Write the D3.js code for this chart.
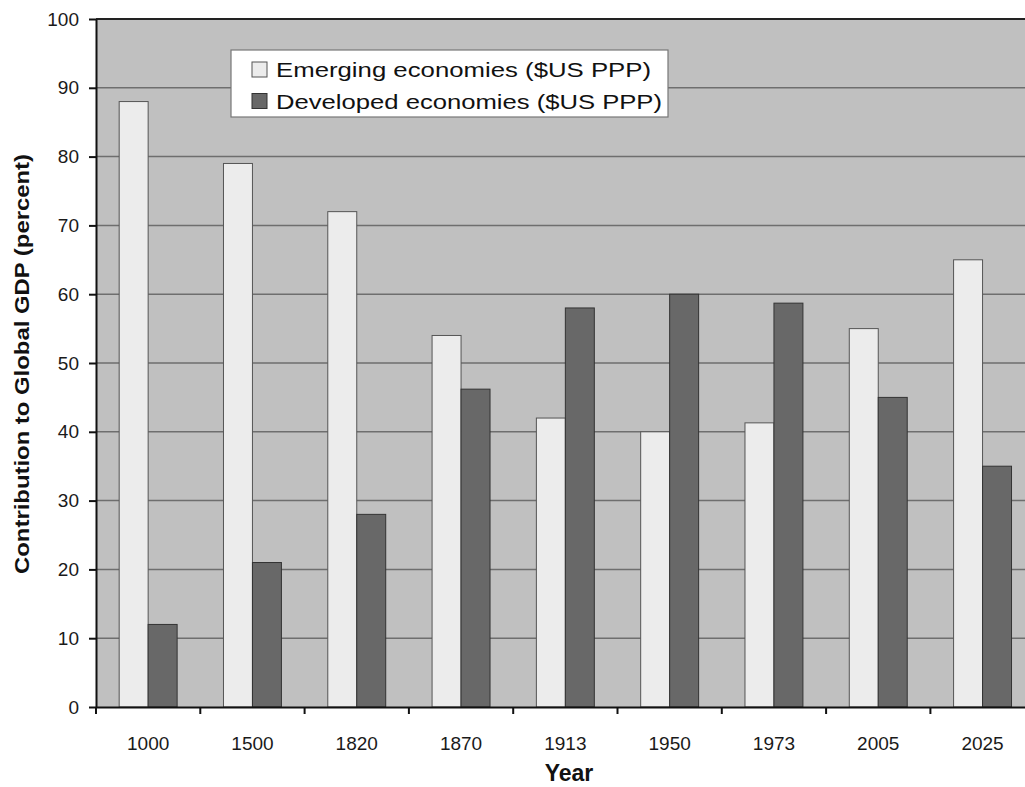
<!DOCTYPE html>
<html>
<head>
<meta charset="utf-8">
<script src="https://cdn.jsdelivr.net/npm/d3@7"></script>
<style>
  html, body { margin: 0; padding: 0; background: #fff; overflow: hidden; }
  svg { display: block; font-family: "Liberation Sans", Arial, sans-serif; }
</style>
</head>
<body>
<svg id="chart" width="1025" height="787"></svg>
<script>
// Share of global GDP by economy group, selected years
const years = ["1000", "1500", "1820", "1870", "1913", "1950", "1973", "2005", "2025"];
const seriesNames = ["Emerging economies ($US PPP)", "Developed economies ($US PPP)"];
const emerging  = [88, 79, 72, 54, 42, 40, 41.3, 55, 65];
const developed = [12, 21, 28, 46.2, 58, 60, 58.7, 45, 35];
const yTicks = [0, 10, 20, 30, 40, 50, 60, 70, 80, 90, 100];

const svg = d3.select("#chart");
const margin = { left: 96, top: 19 };
const plotW = 938.7;   // plot continues past the right edge of the page
const plotH = 688;

const fills = ["#ececec", "#686868"];
const strokes = ["#555", "#333"];

const rows = years.map((yr, i) => ({ year: yr, values: [emerging[i], developed[i]] }));

const x0 = d3.scaleBand().domain(years).range([0, plotW]).padding(0);
const x1 = d3.scaleBand().domain([0, 1]).range([0, x0.bandwidth()])
  .paddingInner(0).paddingOuter(0.8);
const y = d3.scaleLinear().domain([0, 100]).range([plotH, 0]);

const g = svg.append("g").attr("transform", `translate(${margin.left},${margin.top})`);

// plot background
g.append("rect").attr("x", 0).attr("y", 0).attr("width", plotW).attr("height", plotH)
  .attr("fill", "#c0c0c0");

// horizontal gridlines
g.append("g").selectAll("line").data(yTicks.filter(d => d > 0 && d < 100)).join("line")
  .attr("x1", 0).attr("x2", plotW)
  .attr("y1", d => y(d)).attr("y2", d => y(d))
  .attr("stroke", "#6e6e6e").attr("stroke-width", 1.5);

// bars
const groups = g.append("g").selectAll("g").data(rows).join("g")
  .attr("transform", d => `translate(${x0(d.year)},0)`);
groups.selectAll("rect").data(d => d.values.map((v, k) => ({ v, k }))).join("rect")
  .attr("x", d => x1(d.k))
  .attr("width", x1.bandwidth())
  .attr("y", d => y(d.v))
  .attr("height", d => plotH - y(d.v))
  .attr("fill", d => fills[d.k])
  .attr("stroke", d => strokes[d.k])
  .attr("stroke-width", 1);

// top border
g.append("line").attr("x1", 0).attr("x2", plotW).attr("y1", 0).attr("y2", 0)
  .attr("stroke", "#222").attr("stroke-width", 2);

// y axis
const yAxis = g.append("g")
  .call(d3.axisLeft(y).tickValues(yTicks).tickSize(7).tickPadding(10).tickSizeOuter(0));
yAxis.select(".domain").attr("stroke", "#111").attr("stroke-width", 2);
yAxis.selectAll(".tick line").attr("stroke", "#111").attr("stroke-width", 2);
yAxis.selectAll(".tick text").attr("font-size", 19).attr("fill", "#1a1a1a")
  .attr("font-family", "Liberation Sans, Arial, sans-serif");

// x axis: labels centered on categories, tick marks between categories
const xAxis = g.append("g").attr("transform", `translate(0,${plotH})`)
  .call(d3.axisBottom(x0).tickSize(0).tickPadding(30).tickSizeOuter(0));
xAxis.select(".domain").attr("stroke", "#111").attr("stroke-width", 2);
xAxis.selectAll(".tick text").attr("font-size", 19).attr("fill", "#1a1a1a")
  .attr("font-family", "Liberation Sans, Arial, sans-serif");
xAxis.append("g").selectAll("line").data(years).join("line")
  .attr("x1", d => x0(d)).attr("x2", d => x0(d))
  .attr("y1", 0).attr("y2", 7)
  .attr("stroke", "#111").attr("stroke-width", 2);

// axis titles
svg.append("text")
  .attr("x", 569).attr("y", 781)
  .attr("text-anchor", "middle")
  .attr("font-size", 23).attr("font-weight", "bold").attr("fill", "#111")
  .text("Year");

svg.append("text")
  .attr("transform", "translate(29,364) rotate(-90)")
  .attr("text-anchor", "middle")
  .attr("font-size", 20).attr("font-weight", "bold").attr("fill", "#111")
  .attr("textLength", 420).attr("lengthAdjust", "spacingAndGlyphs")
  .text("Contribution to Global GDP (percent)");

// legend
const legend = svg.append("g").attr("transform", "translate(231,50)");
legend.append("rect").attr("width", 437).attr("height", 67)
  .attr("fill", "#fff").attr("stroke", "#777").attr("stroke-width", 1.2);
const legendWidths = [375, 386];
const item = legend.selectAll("g.item").data(seriesNames).join("g")
  .attr("class", "item")
  .attr("transform", (d, i) => `translate(21,${12 + i * 31.5})`);
item.append("rect").attr("width", 15).attr("height", 15)
  .attr("fill", (d, i) => fills[i]).attr("stroke", (d, i) => strokes[i]).attr("stroke-width", 1);
item.append("text")
  .attr("x", 24).attr("y", 15)
  .attr("font-size", 21).attr("fill", "#111")
  .attr("textLength", (d, i) => legendWidths[i]).attr("lengthAdjust", "spacingAndGlyphs")
  .text(d => d);
</script>
</body>
</html>
